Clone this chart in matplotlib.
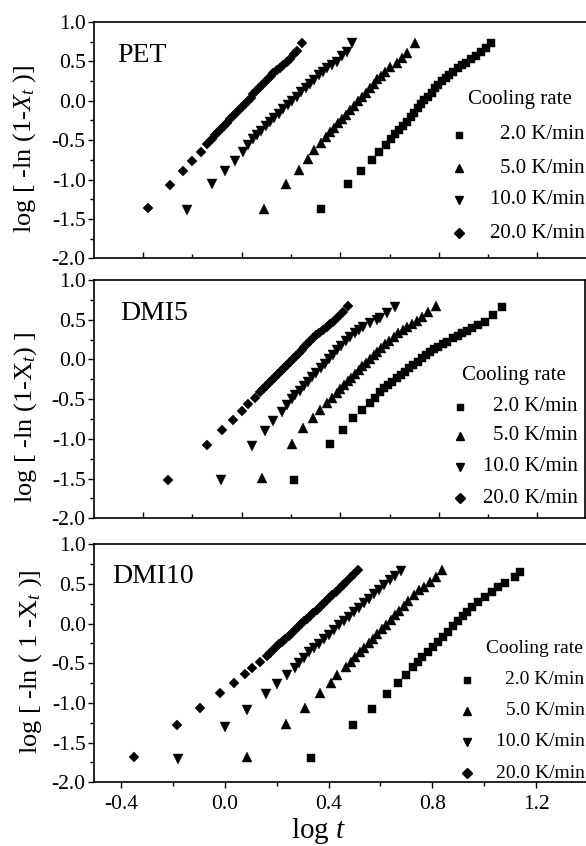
import matplotlib
matplotlib.use("Agg")
import matplotlib.pyplot as plt
from matplotlib.ticker import MultipleLocator, FormatStrFormatter

plt.rcParams['font.family'] = ['Liberation Serif', 'DejaVu Serif']
plt.rcParams['mathtext.fontset'] = 'custom'
plt.rcParams['mathtext.rm'] = 'Liberation Serif'
plt.rcParams['mathtext.it'] = 'Liberation Serif:italic'
plt.rcParams['axes.unicode_minus'] = False

# ---------------- data ----------------
rates = ["2.0 K/min", "5.0 K/min", "10.0 K/min", "20.0 K/min"]
panel_names = ["PET", "DMI5", "DMI10"]

# PET
pet_x2 = [0.321, 0.430, 0.483, 0.528, 0.557, 0.586, 0.606, 0.622, 0.640, 0.656, 0.670, 0.686, 0.701, 0.714, 0.728, 0.741,
          0.755, 0.771, 0.785, 0.798, 0.814, 0.828, 0.843, 0.859, 0.877, 0.893, 0.909, 0.929, 0.950, 0.970, 0.990, 1.012]
pet_y2 = [-1.377, -1.060, -0.891, -0.751, -0.646, -0.561, -0.489, -0.421, -0.371, -0.316, -0.265, -0.202, -0.151, -0.095,
          -0.041, 0.010, 0.052, 0.103, 0.159, 0.201, 0.251, 0.286, 0.327, 0.369, 0.412, 0.454, 0.483, 0.527, 0.569, 0.623,
          0.666, 0.730]
pet_x5 = [0.092, 0.179, 0.233, 0.268, 0.295, 0.321, 0.343, 0.359, 0.375, 0.391, 0.407, 0.423, 0.439, 0.455, 0.471, 0.487,
          0.503, 0.519, 0.535, 0.551, 0.565, 0.582, 0.602, 0.629, 0.649, 0.672, 0.704]
pet_y5 = [-1.373, -1.056, -0.878, -0.739, -0.624, -0.540, -0.455, -0.399, -0.343, -0.288, -0.232, -0.176, -0.120, -0.064,
          -0.008, 0.047, 0.103, 0.159, 0.215, 0.271, 0.320, 0.370, 0.433, 0.476, 0.539, 0.611, 0.730]
pet_x10 = [-0.223, -0.121, -0.067, -0.027, 0.007, 0.027, 0.047, 0.061, 0.079, 0.097, 0.115, 0.133, 0.151, 0.169, 0.187,
           0.205, 0.223, 0.241, 0.259, 0.277, 0.295, 0.313, 0.330, 0.345, 0.366, 0.386, 0.406, 0.426, 0.449]
pet_y10 = [-1.386, -1.060, -0.891, -0.760, -0.646, -0.561, -0.489, -0.434, -0.380, -0.326, -0.272, -0.218, -0.164, -0.110,
           -0.056, -0.002, 0.052, 0.106, 0.160, 0.214, 0.268, 0.322, 0.370, 0.412, 0.454, 0.496, 0.569, 0.623, 0.730]
pet_x20 = [-0.379, -0.290, -0.236, -0.200, -0.166, -0.139, -0.121, -0.108, -0.096, -0.084, -0.072, -0.060, -0.048, -0.036,
           -0.024, -0.012, 0.000, 0.012, 0.024, 0.036, 0.048, 0.060, 0.072, 0.084, 0.096, 0.108, 0.118, 0.129, 0.142, 0.155,
           0.169, 0.182, 0.196, 0.213, 0.223, 0.246]
pet_y20 = [-1.364, -1.069, -0.891, -0.764, -0.646, -0.548, -0.489, -0.434, -0.394, -0.355, -0.315, -0.276, -0.237, -0.197,
           -0.157, -0.118, -0.078, -0.038, 0.002, 0.041, 0.081, 0.120, 0.160, 0.200, 0.239, 0.279, 0.312, 0.348, 0.391, 0.420,
           0.454, 0.490, 0.526, 0.594, 0.636, 0.737]

# DMI5
d5_x2 = [0.213, 0.359, 0.413, 0.453, 0.490, 0.521, 0.541, 0.561, 0.578, 0.595, 0.612, 0.629, 0.646, 0.663, 0.680, 0.697,
         0.714, 0.731, 0.748, 0.764, 0.781, 0.798, 0.815, 0.832, 0.859, 0.876, 0.893, 0.913, 0.933, 0.960, 0.987, 1.021, 1.055]
d5_y2 = [-1.518, -1.069, -0.889, -0.742, -0.637, -0.553, -0.480, -0.410, -0.365, -0.322, -0.280, -0.238, -0.196, -0.155,
         -0.112, -0.070, -0.028, 0.014, 0.056, 0.097, 0.128, 0.160, 0.192, 0.223, 0.265, 0.296, 0.328, 0.360, 0.392, 0.433,
         0.475, 0.559, 0.664]
d5_x5 = [0.084, 0.203, 0.250, 0.288, 0.318, 0.345, 0.367, 0.385, 0.400, 0.415, 0.430, 0.445, 0.460, 0.475, 0.490, 0.505,
         0.520, 0.535, 0.550, 0.566, 0.582, 0.598, 0.617, 0.636, 0.653, 0.672, 0.690, 0.712, 0.730, 0.757, 0.789]
d5_y5 = [-1.497, -1.069, -0.868, -0.742, -0.637, -0.553, -0.480, -0.420, -0.370, -0.322, -0.275, -0.228, -0.181, -0.135,
         -0.088, -0.042, 0.005, 0.051, 0.097, 0.145, 0.190, 0.235, 0.280, 0.330, 0.370, 0.410, 0.450, 0.490, 0.530, 0.600,
         0.672]
d5_x10 = [-0.084, 0.041, 0.095, 0.129, 0.163, 0.183, 0.203, 0.218, 0.235, 0.252, 0.269, 0.286, 0.303, 0.320, 0.337, 0.354,
          0.371, 0.388, 0.405, 0.422, 0.439, 0.460, 0.477, 0.494, 0.521, 0.548, 0.561, 0.589, 0.622]
d5_y10 = [-1.518, -1.086, -0.901, -0.772, -0.658, -0.574, -0.503, -0.453, -0.396, -0.340, -0.283, -0.226, -0.170, -0.113,
          -0.057, 0.000, 0.057, 0.113, 0.170, 0.226, 0.283, 0.328, 0.370, 0.412, 0.454, 0.496, 0.517, 0.580, 0.664]
d5_x20 = [-0.300, -0.142, -0.081, -0.036, 0.000, 0.027, 0.054, 0.075, 0.087, 0.099, 0.111, 0.123, 0.135, 0.147, 0.159,
          0.171, 0.183, 0.195, 0.207, 0.219, 0.231, 0.243, 0.255, 0.267, 0.279, 0.291, 0.303, 0.315, 0.330, 0.345, 0.358,
          0.372, 0.392, 0.413, 0.433]
d5_y20 = [-1.518, -1.078, -0.889, -0.763, -0.650, -0.565, -0.482, -0.407, -0.370, -0.332, -0.295, -0.258, -0.220, -0.183,
          -0.146, -0.108, -0.071, -0.034, 0.004, 0.041, 0.078, 0.116, 0.153, 0.190, 0.227, 0.265, 0.302, 0.339, 0.375, 0.412,
          0.445, 0.475, 0.538, 0.600, 0.672]

# DMI10
d10_x2 = [0.334, 0.495, 0.567, 0.627, 0.666, 0.698, 0.724, 0.743, 0.762, 0.782, 0.801, 0.820, 0.840, 0.859, 0.878, 0.898,
          0.917, 0.934, 0.953, 0.975, 1.003, 1.029, 1.055, 1.082, 1.117, 1.139]
d10_y2 = [-1.690, -1.278, -1.080, -0.887, -0.753, -0.648, -0.543, -0.480, -0.417, -0.354, -0.291, -0.228, -0.165, -0.102,
          -0.030, 0.037, 0.096, 0.150, 0.213, 0.276, 0.339, 0.402, 0.465, 0.516, 0.591, 0.654]
d10_x5 = [0.087, 0.237, 0.308, 0.368, 0.409, 0.434, 0.467, 0.486, 0.503, 0.520, 0.537, 0.554, 0.571, 0.588, 0.605, 0.622,
          0.639, 0.656, 0.673, 0.690, 0.707, 0.730, 0.750, 0.769, 0.792, 0.814, 0.836]
d10_y5 = [-1.686, -1.266, -1.060, -0.879, -0.745, -0.648, -0.543, -0.480, -0.422, -0.363, -0.305, -0.246, -0.188, -0.129,
          -0.071, -0.012, 0.046, 0.105, 0.163, 0.222, 0.280, 0.360, 0.424, 0.465, 0.520, 0.591, 0.676]
d10_x10 = [-0.179, 0.001, 0.087, 0.158, 0.203, 0.239, 0.271, 0.288, 0.306, 0.325, 0.344, 0.363, 0.383, 0.402, 0.422, 0.441,
           0.460, 0.479, 0.499, 0.518, 0.537, 0.556, 0.576, 0.595, 0.615, 0.635, 0.655, 0.679]
d10_y10 = [-1.707, -1.299, -1.089, -0.891, -0.765, -0.648, -0.556, -0.490, -0.430, -0.362, -0.306, -0.251, -0.192, -0.137,
           -0.078, -0.023, 0.033, 0.088, 0.147, 0.202, 0.258, 0.313, 0.371, 0.427, 0.485, 0.544, 0.602, 0.667]
d10_x20 = [-0.351, -0.186, -0.096, -0.019, 0.036, 0.077, 0.106, 0.136, 0.162, 0.174, 0.186, 0.198, 0.210, 0.222, 0.234,
           0.246, 0.258, 0.270, 0.282, 0.294, 0.306, 0.318, 0.330, 0.342, 0.354, 0.366, 0.378, 0.390, 0.403, 0.415, 0.428,
           0.443, 0.455, 0.467, 0.485, 0.498, 0.512]
d10_y20 = [-1.678, -1.279, -1.068, -0.879, -0.753, -0.639, -0.556, -0.480, -0.408, -0.372, -0.336, -0.299, -0.263, -0.227,
           -0.191, -0.154, -0.118, -0.082, -0.046, -0.009, 0.027, 0.063, 0.099, 0.136, 0.172, 0.208, 0.244, 0.281, 0.320,
           0.360, 0.402, 0.450, 0.490, 0.528, 0.585, 0.630, 0.670]

ylabels = [r'log [ -ln (1-$X_t$ )]', r'log [ -ln (1-$\mathrm{X}_t$) ]', r'log [ -ln ( 1 -$\mathrm{X}_t$ )]']

panels = [
    [(pet_x2, pet_y2), (pet_x5, pet_y5), (pet_x10, pet_y10), (pet_x20, pet_y20)],
    [(d5_x2, d5_y2), (d5_x5, d5_y5), (d5_x10, d5_y10), (d5_x20, d5_y20)],
    [(d10_x2, d10_y2), (d10_x5, d10_y5), (d10_x10, d10_y10), (d10_x20, d10_y20)],
]

# ---------------- layout ----------------
W, H = 586, 846
fig = plt.figure(figsize=(W / 100, H / 100), dpi=100)

def rect(left, right, top, bottom):
    return [left / W, 1 - bottom / H, (right - left) / W, (bottom - top) / H]

axes_px = [(94, 588, 22, 258.3), (94, 585, 280, 518.3), (94, 588, 544.3, 782.3)]
xlims = [(-0.599, 1.405), (-0.599, 1.393), (-0.504, 1.400)]

markers = ['s', '^', 'v', 'D']
msizes = [5.2, 6.6, 6.6, 5.2]

legend_cfg = [
    dict(title_xy=(0.967, 0.670), mx=0.739, tx=0.993, rows=[0.522, 0.381, 0.247, 0.106], fs=15),
    dict(title_xy=(0.961, 0.601), mx=0.745, tx=0.985, rows=[0.468, 0.347, 0.217, 0.084], fs=15),
    dict(title_xy=(0.990, 0.563), mx=0.756, tx=0.993, rows=[0.430, 0.301, 0.171, 0.038], fs=14),
]
name_xy = [(0.047, 0.831), (0.053, 0.832), (0.036, 0.836)]
ylabel_xy = [(-0.1405, 0.463), (-0.14, 0.423), (-0.129, 0.507)]

for i, (px, series) in enumerate(zip(axes_px, panels)):
    ax = fig.add_axes(rect(*px))
    for (xs, ys), m, ms in zip(series, markers, msizes):
        ax.plot(xs, ys, linestyle='none', marker=m, ms=ms, color='black', mec='black', mew=0.3)
    ax.set_xlim(*xlims[i])
    ax.set_ylim(-2.0, 1.0)
    ax.xaxis.set_major_locator(MultipleLocator(0.4))
    ax.xaxis.set_minor_locator(MultipleLocator(0.2))
    ax.yaxis.set_major_locator(MultipleLocator(0.5))
    ax.yaxis.set_minor_locator(MultipleLocator(0.25))
    ax.yaxis.set_major_formatter(FormatStrFormatter('%.1f'))
    ax.xaxis.set_major_formatter(FormatStrFormatter('%.1f'))
    for s in ax.spines.values():
        s.set_linewidth(1.2)
    ax.tick_params(axis='y', which='major', direction='out', length=4.5, width=1.0, labelsize=15.5, pad=1.5)
    ax.tick_params(axis='y', which='minor', direction='out', length=2.8, width=1.0)
    if i < 2:
        ax.tick_params(axis='x', which='both', direction='in', labelbottom=False)
        ax.tick_params(axis='x', which='major', length=4.5, width=1.0)
        ax.tick_params(axis='x', which='minor', length=2.8, width=1.0)
    else:
        ax.tick_params(axis='x', which='major', direction='out', length=4.5, width=1.0, labelsize=15.5, pad=5)
        ax.tick_params(axis='x', which='minor', direction='out', length=3.0, width=1.0)
        ax.set_xlabel(r'log $t$', fontsize=21)
        ax.xaxis.set_label_coords(0.455, -0.14)
    ax.text(name_xy[i][0], name_xy[i][1], panel_names[i], transform=ax.transAxes, fontsize=20,
            ha='left', va='baseline')
    ax.text(ylabel_xy[i][0], ylabel_xy[i][1], ylabels[i], transform=ax.transAxes, fontsize=19,
            rotation=90, ha='center', va='center')
    cfg = legend_cfg[i]
    ax.text(cfg['title_xy'][0], cfg['title_xy'][1], 'Cooling rate', transform=ax.transAxes,
            fontsize=cfg['fs'], ha='right', va='center')
    for r, m, ms, lab in zip(cfg['rows'], markers, msizes, rates):
        ax.plot([cfg['mx']], [r], transform=ax.transAxes, linestyle='none', marker=m, ms=ms * 0.9,
                color='black', clip_on=False)
        ax.text(cfg['tx'], r, lab, transform=ax.transAxes, fontsize=cfg['fs'], ha='right', va='center')

fig.savefig('out.png', dpi=100)
